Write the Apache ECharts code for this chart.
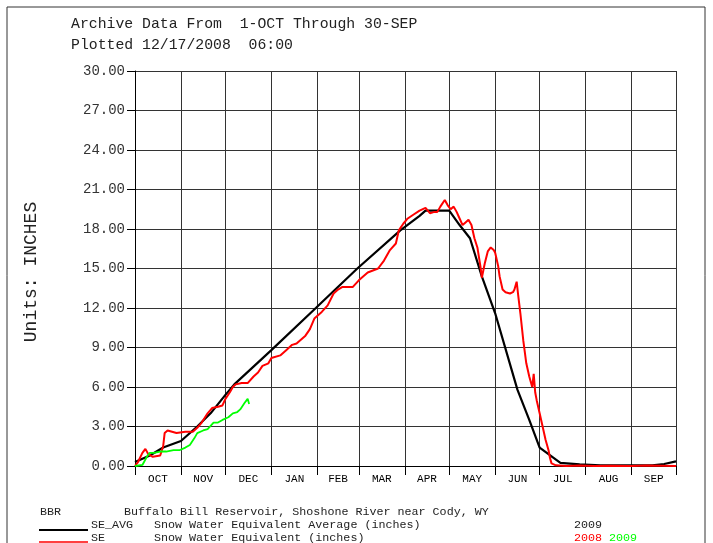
<!DOCTYPE html>
<html>
<head>
<meta charset="utf-8">
<script src="https://cdn.jsdelivr.net/npm/echarts@6/dist/echarts.min.js"></script>
<style>
html,body{margin:0;padding:0;background:#fff;}
#chart{width:713px;height:543px;}
</style>
</head>
<body>
<div id="chart"></div>
<script>
// Month categories and boundaries (day of water year, starting 1-OCT)
var months = ['OCT','NOV','DEC','JAN','FEB','MAR','APR','MAY','JUN','JUL','AUG','SEP'];
var monthStart = [0,31,61,92,123,151,182,212,243,273,304,335,365];
var yTicks = [0,3,6,9,12,15,18,21,24,27,30];

// SE_AVG: Snow Water Equivalent Average (inches) [day, value]
var seAvg = [
  [0,0.3],[10,0.8],[19,1.4],[31,1.9],[42,3.0],[51,4.0],[61,5.4],[67,6.2],
  [92,8.8],[122,12.0],[150,15.0],[179,17.9],[192,19.0],[196,19.4],[212,19.4],
  [219,18.3],[226,17.3],[234,14.4],[243,11.6],[258,5.8],[266,3.5],[273,1.4],
  [287,0.23],[300,0.12],[314,0.05],[349,0.05],[357,0.15],[365,0.35]
];

// SE 2008 water year (inches) [day, value]
var se2008 = [
  [0,0.0],[2,0.3],[5,1.0],[7,1.3],[8,1.3],[9,0.9],[12,0.7],[17,0.8],[19,1.5],
  [20,2.5],[22,2.7],[25,2.6],[28,2.5],[34,2.6],[39,2.6],[42,2.9],[45,3.3],
  [49,4.0],[52,4.4],[56,4.5],[59,4.6],[61,5.1],[64,5.6],[66,6.0],[68,6.2],
  [72,6.3],[76,6.3],[80,6.8],[83,7.1],[86,7.6],[90,7.8],[92,8.2],[98,8.4],
  [102,8.8],[106,9.2],[109,9.3],[115,9.9],[118,10.4],[121,11.2],[126,11.7],
  [130,12.2],[134,13.1],[137,13.4],[140,13.6],[147,13.6],[151,14.1],[157,14.7],
  [164,15.0],[168,15.6],[172,16.4],[176,16.9],[178,17.9],[181,18.4],[184,18.8],
  [188,19.1],[192,19.4],[196,19.6],[199,19.2],[202,19.3],[204,19.3],[206,19.7],
  [209,20.2],[211,19.8],[213,19.5],[215,19.7],[217,19.3],[219,18.8],[221,18.3],
  [223,18.5],[225,18.7],[227,18.3],[229,17.3],[231,16.6],[233,15.2],[234,14.3],
  [236,15.4],[238,16.3],[240,16.6],[242,16.4],[243,16.2],[245,15.2],[246,14.4],
  [248,13.4],[250,13.2],[253,13.1],[255,13.2],[256,13.4],[257.5,14.0],[258.5,13.0],
  [260,11.6],[262,9.5],[264,7.8],[266,6.8],[268,6.0],[269,7.0],[270,5.6],
  [271,5.0],[273,4.0],[275,3.0],[277,2.0],[279,1.2],[280,0.6],[281,0.2],
  [284,0.05],[291,0.0],[300,0.03],[310,0.0],[320,0.02],[335,0.0],[345,0.03],[365,0.0]
];

// SE 2009 water year (inches) [day, value]
var se2009 = [
  [0,0.0],[5,0.08],[8,0.7],[10,1.0],[13,1.0],[17,1.1],[21,1.1],[26,1.2],[30,1.2],
  [34,1.4],[37,1.6],[40,2.1],[42,2.5],[46,2.7],[49,2.8],[53,3.3],[56,3.3],
  [59,3.5],[63,3.7],[66,4.0],[69,4.1],[71,4.3],[74,4.8],[76,5.1],[77,4.7]
];

var chart = echarts.init(document.getElementById('chart'), null, {renderer:'canvas'});
var mono = '"Liberation Mono", "DejaVu Sans Mono", monospace';
var monthMid = [];
for (var i = 0; i < months.length; i++) monthMid.push((monthStart[i] + monthStart[i+1]) / 2);

var option = {
  backgroundColor: '#fff',
  animation: false,
  grid: {left: 135, right: 37, top: 71, bottom: 77},
  xAxis: {
    type: 'value', min: 0, max: 365,
    axisLine: {show: true, onZero: false, lineStyle: {color: '#000', width: 1}},
    axisTick: {show: true, length: 9, customValues: monthStart, lineStyle: {color: '#000'}},
    axisLabel: {
      customValues: monthMid, margin: 8, color: '#000', fontFamily: mono, fontSize: 11,
      formatter: function (v) {
        for (var k = 0; k < monthMid.length; k++) if (Math.abs(monthMid[k] - v) < 0.01) return months[k];
        return '';
      }
    },
    splitLine: {show: true, lineStyle: {color: '#333', width: 1}}
  },
  yAxis: {
    type: 'value', min: 0, max: 30, interval: 3,
    axisLine: {show: true, lineStyle: {color: '#000'}},
    axisTick: {show: true, length: 8, lineStyle: {color: '#000'}},
    axisLabel: {margin: 10, color: '#333', fontFamily: mono, fontSize: 14,
      formatter: function (v) { return v.toFixed(2); }},
    splitLine: {show: true, lineStyle: {color: '#333', width: 1}}
  },
  series: [
    {name: 'SE_AVG', type: 'line', data: seAvg, showSymbol: false, z: 3,
     lineStyle: {color: '#000', width: 2.2}},
    {name: 'SE 2008', type: 'line', data: se2008, showSymbol: false, z: 4,
     lineStyle: {color: '#ff0000', width: 2}},
    {name: 'SE 2009', type: 'line', data: se2009, showSymbol: false, z: 5,
     lineStyle: {color: '#00ff00', width: 1.8}}
  ],
  graphic: [
    {type: 'rect', shape: {x: 7, y: 7, width: 698, height: 560}, style: {fill: 'none', stroke: '#333', lineWidth: 1}, silent: true},
    {type: 'text', left: 71, top: 17, style: {text: 'Archive Data From  1-OCT Through 30-SEP', font: '14.8px ' + mono, fill: '#222'}},
    {type: 'text', left: 71, top: 38, style: {text: 'Plotted 12/17/2008  06:00', font: '14.8px ' + mono, fill: '#222'}},
    {type: 'text', x: 31, y: 272, rotation: Math.PI / 2,
     style: {text: 'Units: INCHES', font: '18px ' + mono, fill: '#222', align: 'center', verticalAlign: 'middle'}},
    {type: 'text', x: 40, y: 512, style: {text: 'BBR', font: '11.7px ' + mono, fill: '#222', verticalAlign: 'middle'}},
    {type: 'text', x: 124, y: 512, style: {text: 'Buffalo Bill Reservoir, Shoshone River near Cody, WY', font: '11.7px ' + mono, fill: '#222', verticalAlign: 'middle'}},
    {type: 'line', shape: {x1: 39, y1: 530, x2: 88, y2: 530}, style: {stroke: '#000', lineWidth: 2}},
    {type: 'text', x: 91, y: 525, style: {text: 'SE_AVG', font: '11.7px ' + mono, fill: '#222', verticalAlign: 'middle'}},
    {type: 'text', x: 154, y: 525, style: {text: 'Snow Water Equivalent Average (inches)', font: '11.7px ' + mono, fill: '#222', verticalAlign: 'middle'}},
    {type: 'text', x: 574, y: 525, style: {text: '2009', font: '11.7px ' + mono, fill: '#222', verticalAlign: 'middle'}},
    {type: 'line', shape: {x1: 39, y1: 542, x2: 88, y2: 542}, style: {stroke: '#ff0000', lineWidth: 1.5}},
    {type: 'text', x: 91, y: 538, style: {text: 'SE', font: '11.7px ' + mono, fill: '#222', verticalAlign: 'middle'}},
    {type: 'text', x: 154, y: 538, style: {text: 'Snow Water Equivalent (inches)', font: '11.7px ' + mono, fill: '#222', verticalAlign: 'middle'}},
    {type: 'text', x: 574, y: 538, style: {text: '2008', font: '11.7px ' + mono, fill: '#ff0000', verticalAlign: 'middle'}},
    {type: 'text', x: 609, y: 538, style: {text: '2009', font: '11.7px ' + mono, fill: '#00ff00', verticalAlign: 'middle'}}
  ]
};
chart.setOption(option);
</script>
</body>
</html>
